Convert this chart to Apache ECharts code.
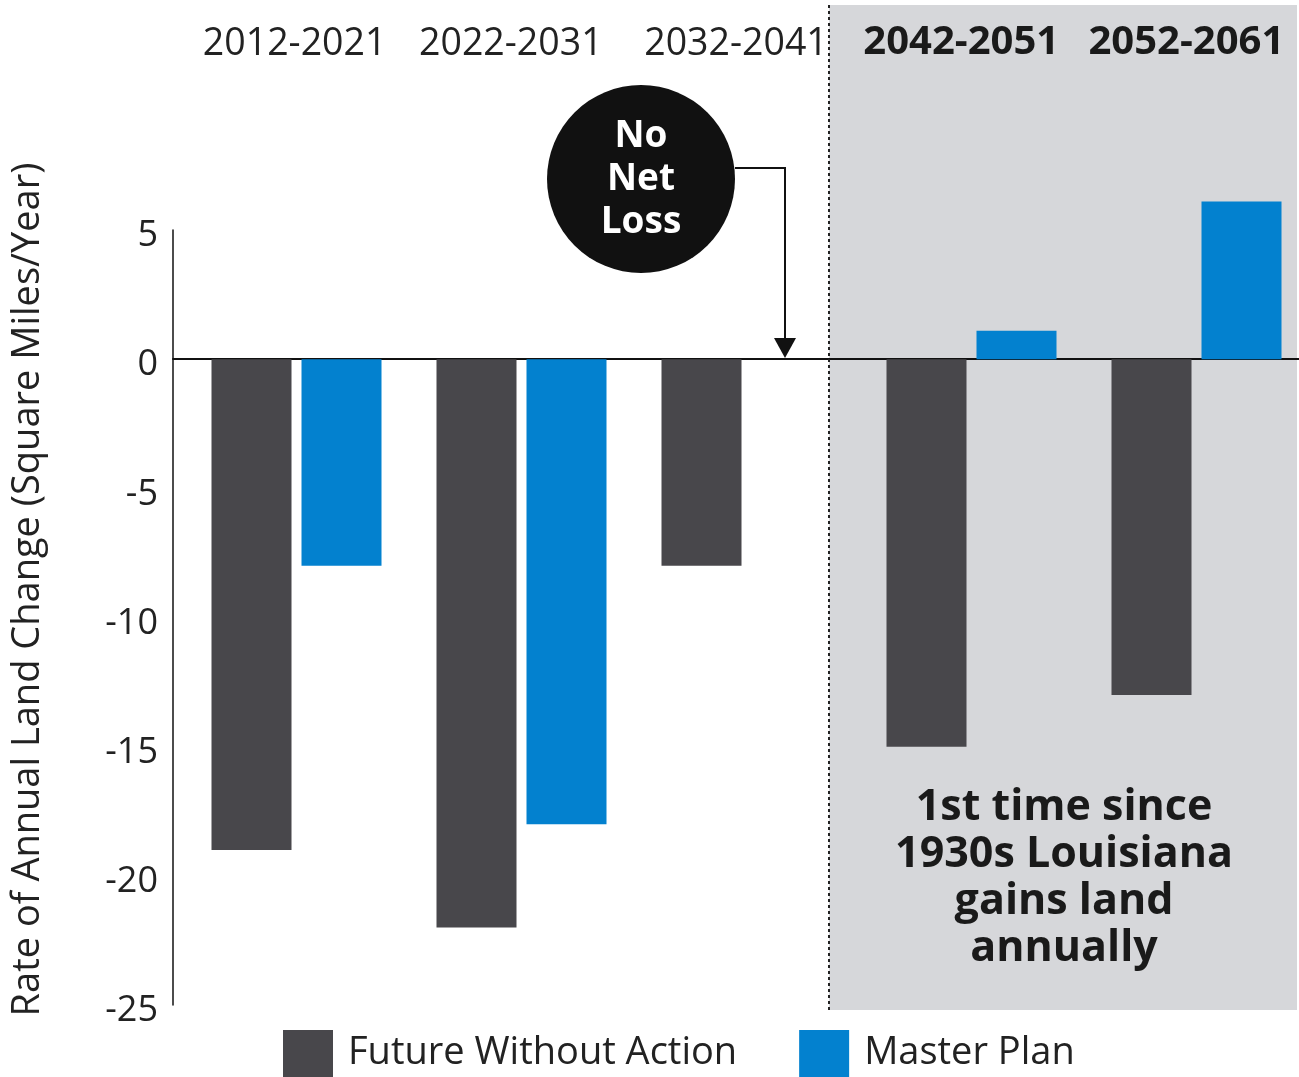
<!DOCTYPE html>
<html>
<head>
<meta charset="utf-8">
<script src="https://cdn.jsdelivr.net/npm/echarts@6/dist/echarts.min.js"></script>
<style>html,body{margin:0;padding:0;background:#fff;overflow:hidden}#c{width:1312px;height:1077px}</style>
</head>
<body>
<div id="c"></div>
<script>
const categories = ['2012-2021', '2022-2031', '2032-2041', '2042-2051', '2052-2061'];
const futureWithoutAction = [-19, -22, -8, -15, -13];
const masterPlan = [-8, -18, 0, 1.1, 6.1];
const yMin = -25, yMax = 5, yStep = 5;
const boldCategories = ['2042-2051', '2052-2061'];

const FONT = '"Open Sans", "Noto Sans", sans-serif';
const DARK = '#48474b';
const BLUE = '#0381cf';

const chart = echarts.init(document.getElementById('c'), null, {renderer: 'canvas'});
chart.setOption({
  animation: false,
  backgroundColor: '#fff',
  textStyle: {fontFamily: FONT},
  grid: [
    {left: 184, width: 1125, top: 230, height: 775, containLabel: false},
    {left: 173, width: 1126, top: 230, height: 775, containLabel: false}
  ],
  xAxis: [
    {type: 'category', gridIndex: 0, data: categories, show: false},
    {type: 'category', gridIndex: 1, data: categories, position: 'top',
     axisLine: {show: false, onZero: false}, axisTick: {show: false},
     axisLabel: {interval: 0, hideOverlap: false, margin: 167, fontSize: 37.5, color: '#222', fontFamily: FONT,
       formatter: (v, i) => boldCategories.includes(v) ? '{b|' + v + '}' : (i === 0 ? '{f|' + v + '}' : v),
       rich: {
         b: {fontSize: 40, fontWeight: 'bold', color: '#1a1a1a', fontFamily: FONT},
         f: {fontSize: 37.5, color: '#222', fontFamily: FONT, padding: [0, 0, 0, 18]}
       }}},
    {type: 'category', gridIndex: 1, data: categories, position: 'bottom',
     axisLine: {show: true, onZero: true, lineStyle: {color: '#111', width: 2}},
     axisTick: {show: false}, axisLabel: {show: false}}
  ],
  yAxis: [
    {type: 'value', gridIndex: 0, min: yMin, max: yMax, interval: yStep, show: false},
    {type: 'value', gridIndex: 1, min: yMin, max: yMax, interval: yStep,
     name: 'Rate of Annual Land Change (Square Miles/Year)', nameLocation: 'middle', nameGap: 126,
     nameTextStyle: {fontSize: 38, color: '#222', fontFamily: FONT, padding: [0, 0, 0, 56]},
     axisLine: {show: true, onZero: false, lineStyle: {color: '#111', width: 1.5}},
     axisTick: {show: false}, splitLine: {show: false},
     axisLabel: {margin: 15, fontFamily: FONT,
       formatter: v => '{a|' + v + '}',
       rich: {a: {fontSize: 36, color: '#222', fontFamily: FONT, padding: [12, 0, 0, 0]}}}}
  ],
  legend: {
    left: 283, top: 1030, itemWidth: 50, itemHeight: 47, itemGap: 62, padding: 0,
    icon: 'rect',
    textStyle: {fontSize: 38, color: '#222', fontFamily: FONT, padding: [4, 0, 0, 10]},
    data: ['Future Without Action', 'Master Plan']
  },
  series: [
    {name: 'Future Without Action', type: 'bar', xAxisIndex: 0, yAxisIndex: 0, clip: false,
     data: futureWithoutAction, barWidth: 80, barGap: '12.5%', itemStyle: {color: DARK}, z: 3},
    {name: 'Master Plan', type: 'bar', xAxisIndex: 0, yAxisIndex: 0, clip: false,
     data: masterPlan, barWidth: 80, barGap: '12.5%', itemStyle: {color: BLUE}, z: 3}
  ],
  graphic: [
    {type: 'rect', shape: {x: 829, y: 5, width: 468, height: 1005}, style: {fill: '#d6d7da'}, z: -10},
    {type: 'line', shape: {x1: 829, y1: 5, x2: 829, y2: 1010}, style: {stroke: '#222', lineWidth: 2, lineDash: [3, 3]}, z: 5},
    {type: 'circle', shape: {cx: 641, cy: 179, r: 94}, style: {fill: '#111'}, z: 5},
    {type: 'text', x: 641, y: 179, style: {text: 'No\nNet\nLoss', fill: '#fff', font: 'bold 37px ' + FONT, align: 'center', verticalAlign: 'middle', lineHeight: 43}, z: 6},
    {type: 'polyline', shape: {points: [[735, 168], [785, 168], [785, 340]]}, style: {stroke: '#111', lineWidth: 2, fill: null}, z: 5},
    {type: 'polygon', shape: {points: [[774, 338], [796, 338], [785, 358]]}, style: {fill: '#111'}, z: 5},
    {type: 'text', x: 1064, y: 878, style: {text: '1st time since\n1930s Louisiana\ngains land\nannually', fill: '#1a1a1a', font: 'bold 43px ' + FONT, align: 'center', verticalAlign: 'middle', lineHeight: 47}, z: 6}
  ]
});
</script>
</body>
</html>
